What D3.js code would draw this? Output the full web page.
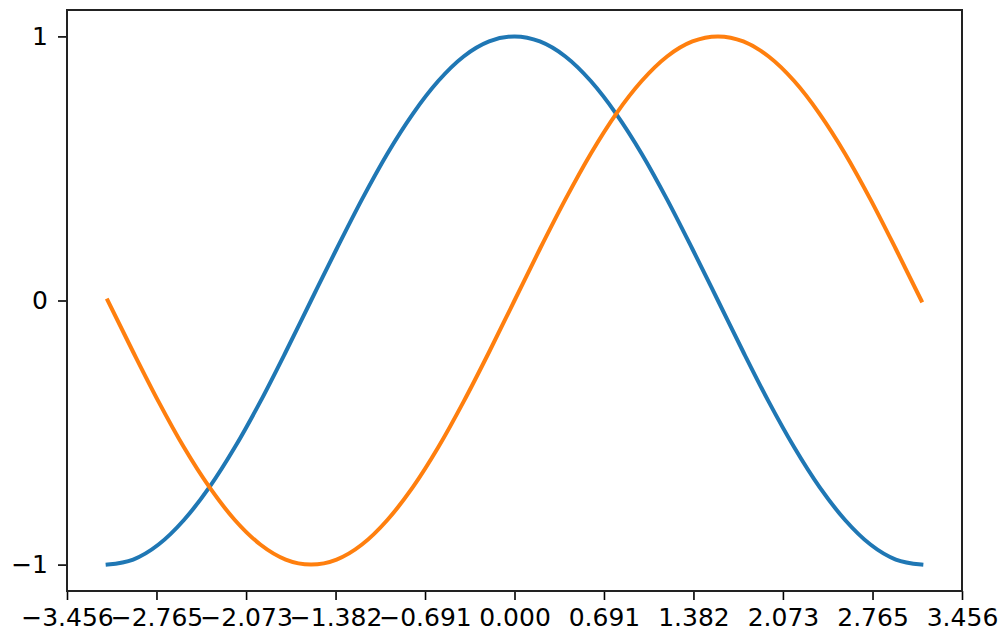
<!DOCTYPE html>
<html>
<head>
<meta charset="utf-8">
<script src="https://cdn.jsdelivr.net/npm/d3@7"></script>
<style>
  html, body { margin: 0; padding: 0; background: #fff; }
  svg { display: block; }
  text { font-family: "DejaVu Sans", sans-serif; fill: #000; }
</style>
</head>
<body>
<svg id="chart" width="1005" height="638"></svg>
<script>
// Sample positions along x (radians, -pi .. pi)
const xs = [-3.142, -2.945, -2.749, -2.553, -2.356, -2.160, -1.963, -1.767, -1.571,
            -1.374, -1.178, -0.982, -0.785, -0.589, -0.393, -0.196, 0.000,
             0.196,  0.393,  0.589,  0.785,  0.982,  1.178,  1.374,  1.571,
             1.767,  1.963,  2.160,  2.356,  2.553,  2.749,  2.945,  3.142];

// Blue curve values
const cosValues = [-1.000, -0.981, -0.924, -0.831, -0.707, -0.556, -0.383, -0.195, 0.000,
                    0.195,  0.383,  0.556,  0.707,  0.831,  0.924,  0.981,  1.000,
                    0.981,  0.924,  0.831,  0.707,  0.556,  0.383,  0.195,  0.000,
                   -0.195, -0.383, -0.556, -0.707, -0.831, -0.924, -0.981, -1.000];

// Orange curve values
const sinValues = [ 0.000, -0.195, -0.383, -0.556, -0.707, -0.831, -0.924, -0.981, -1.000,
                   -0.981, -0.924, -0.831, -0.707, -0.556, -0.383, -0.195,  0.000,
                    0.195,  0.383,  0.556,  0.707,  0.831,  0.924,  0.981,  1.000,
                    0.981,  0.924,  0.831,  0.707,  0.556,  0.383,  0.195,  0.000];

const xTicks = [-3.456, -2.765, -2.073, -1.382, -0.691, 0.000, 0.691, 1.382, 2.073, 2.765, 3.456];
const yTicks = [-1, 0, 1];

const seriesColors = ["#1f77b4", "#ff7f0e"];

const margin = { left: 67, right: 43, top: 10, bottom: 47 };
const W = 1005, H = 638;

const svg = d3.select("#chart");

const x = d3.scaleLinear().domain([-3.456, 3.456]).range([margin.left, W - margin.right]);
const y = d3.scaleLinear().domain([-1.1, 1.1]).range([H - margin.bottom, margin.top]);

const fmt = v => {
  const s = d3.format(".3f")(Math.abs(v));
  return v < 0 ? "\u2212" + s : s;
};
const fmtY = v => (v < 0 ? "\u2212" : "") + Math.abs(v);

// Curves
const line = d3.line()
  .x(d => x(d[0]))
  .y(d => y(d[1]))
  .curve(d3.curveMonotoneX);

[cosValues, sinValues].forEach((vals, i) => {
  svg.append("path")
    .datum(xs.map((xv, j) => [xv, vals[j]]))
    .attr("fill", "none")
    .attr("stroke", seriesColors[i])
    .attr("stroke-width", 4)
    .attr("stroke-linecap", "square")
    .attr("d", line);
});

// Axes
const xAxis = d3.axisBottom(x).tickValues(xTicks).tickFormat(fmt).tickSize(9).tickPadding(8);
const yAxis = d3.axisLeft(y).tickValues(yTicks).tickFormat(fmtY).tickSize(9).tickPadding(10);

const gx = svg.append("g").attr("transform", `translate(0,${H - margin.bottom})`).call(xAxis);
const gy = svg.append("g").attr("transform", `translate(${margin.left},0)`).call(yAxis);

[gx, gy].forEach(g => {
  g.select(".domain").remove();
  g.selectAll(".tick line").attr("stroke", "#000").attr("stroke-width", 1.6);
  g.selectAll(".tick text").attr("font-size", 25).attr("font-family", "DejaVu Sans, sans-serif").attr("fill", "#000");
});

// Frame around plot area
svg.append("rect")
  .attr("x", margin.left)
  .attr("y", margin.top)
  .attr("width", W - margin.left - margin.right)
  .attr("height", H - margin.top - margin.bottom)
  .attr("fill", "none")
  .attr("stroke", "#222")
  .attr("stroke-width", 2);
</script>
</body>
</html>
